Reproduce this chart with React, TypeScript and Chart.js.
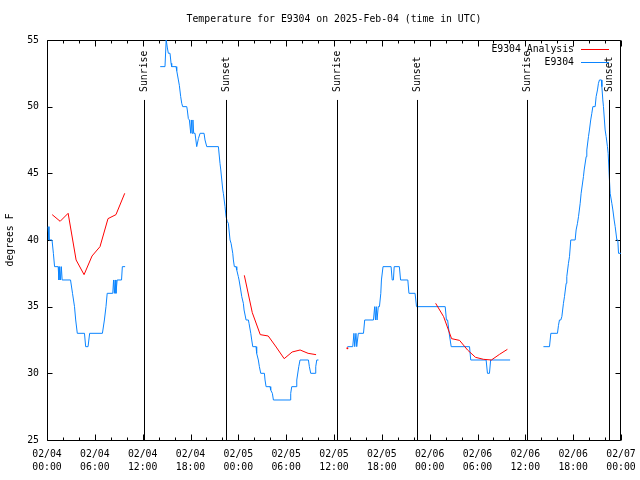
import React, { useEffect, useRef } from "react";
import { Chart, registerables } from "chart.js";

Chart.register(...registerables);

const TITLE = "Temperature for E9304 on 2025-Feb-04 (time in UTC)";
const Y_LABEL = "degrees F";
const SERIES_ANA = "E9304 Analysis";
const SERIES_OBS = "E9304";

// x values are hours since 2025-02-04 00:00 UTC
const tickDays = ["02/04", "02/05", "02/06", "02/07"];
const tickTimes = ["00:00", "06:00", "12:00", "18:00"];

const sunriseHours = [12.22, 36.35, 60.27];
const sunsetHours = [22.5, 46.46, 70.55];

const obsHours = [
  0.13, 0.25, 0.63, 0.8, 0.95, 1.4, 1.5, 1.6, 1.7, 1.8, 1.9, 2.95, 3.2, 3.45, 3.6, 3.8, 4.7, 4.85, 5.15, 5.35, 6.95, 7.2, 7.4, 7.55, 8.25, 8.35, 8.45, 8.55, 8.65, 8.8, 9.35, 9.45, 9.8,
  12,
  14.2, 14.8, 14.95, 15.1, 15.22, 15.43, 15.56, 15.64, 16.19, 16.27, 16.48, 16.6, 16.77, 16.9, 17.02, 17.53, 17.6, 17.73, 17.86, 18.03, 18.1, 18.2, 18.3, 18.4, 18.57, 18.78, 18.99, 19.2, 19.7, 19.82, 20.04, 21.5, 21.7, 21.8, 22.05, 22.12, 22.33, 22.46, 22.6, 22.75, 22.96, 23.09, 23.3, 23.38, 23.5, 23.71, 23.8, 24.0, 24.09, 24.3, 24.43, 24.63, 24.72, 24.97, 25.26, 25.34, 25.56, 25.68, 25.81, 26.22, 26.3, 26.51, 26.64, 26.81, 27.27, 27.35, 27.48, 27.98, 28.06, 28.27, 28.4, 30.49, 30.57, 30.7, 31.24, 31.33, 31.58, 31.74, 32.79, 32.91, 33.08, 33.63, 33.71, 33.84, 34.05,
  36,
  37.68, 38.35, 38.5, 38.6, 38.75, 38.85, 39.05, 39.7, 39.85, 40.95, 41.1, 41.2, 41.3, 41.4, 41.55, 41.7, 41.87, 41.95, 42.15, 43.16, 43.3, 43.45, 43.55, 44.2, 44.35, 45.26, 45.4, 46.17, 46.35, 49.95, 50.1, 50.25, 50.45, 50.7, 53.0, 53.15, 55.08, 55.25, 55.5, 55.65, 58.09,
  60,
  62.27, 63.03, 63.2, 64.03, 64.16, 64.28, 64.45, 64.58, 64.78, 64.91, 65.12, 65.2, 65.41, 65.54, 65.7, 66.25, 66.37, 66.54, 66.67, 66.88, 67.0, 67.29, 67.38, 67.63, 67.71, 67.92, 68.04, 68.2, 68.34, 68.47, 68.76, 68.88, 69.05, 69.17, 69.3, 69.55, 69.6, 69.72, 69.8, 70.01, 70.14, 70.3, 70.39, 70.55, 70.64, 70.85, 70.98, 71.14, 71.27, 71.48, 71.6, 71.69, 72.0,
];
const obsTemps = [
  41, 40, 40, 39, 38, 38, 37, 38, 37, 38, 37, 37, 36, 35, 34, 33, 33, 32, 32, 33, 33, 34, 35, 36, 36, 37, 36, 37, 36, 37, 37, 38, 38,
  null,
  53, 53, 55, 54.4, 54, 54, 53.25, 53, 53, 52.7, 52, 51.6, 50.75, 50.25, 50, 50, 49.75, 49.1, 49, 48, 49, 48, 49, 48, 48, 47, 47.6, 48, 48, 47.5, 47, 47, 45.75, 45.25, 43.75, 43.5, 42.5, 41.75, 41.4, 41.25, 40, 39.75, 39, 38.5, 38, 38, 37.75, 37.25, 37, 36.25, 35.75, 35.25, 34.75, 34, 34, 33.75, 33, 32.5, 32, 32, 31.5, 31, 30.5, 30, 30, 29.5, 29, 29, 28.75, 28.5, 28, 28, 28.5, 29, 29, 29.5, 30.5, 31, 31, 30.5, 30, 30, 30.5, 31, 31,
  null,
  32, 32, 33, 32, 33, 32, 33, 33, 34, 34, 35, 34, 35, 34, 35, 35, 36, 37, 38, 38, 37, 37, 38, 38, 37, 37, 36, 36, 35, 35, 34, 34, 33, 32, 32, 31, 31, 30, 30, 31, 31,
  null,
  32, 32, 33, 33, 33.6, 34, 34, 34.25, 35.25, 35.75, 36.75, 37.25, 38.25, 38.75, 40, 40, 40.75, 41.25, 41.75, 42.75, 43.5, 44.75, 45.25, 46.25, 46.75, 47.75, 48.25, 49, 49.5, 50, 50, 50.75, 51.25, 51.75, 52, 52, 51.5, 50.5, 50, 48.25, 47.75, 47, 46.5, 44.5, 43.5, 42.75, 42.25, 41.5, 41, 40, 40, 39, 39,
];

const anaHours = [
  0.65, 1.65, 2.65, 3.65, 4.65, 5.65, 6.65, 7.65, 8.65, 9.75,
  12,
  24.75, 25.75, 26.75, 27.75, 28.75, 29.75, 30.75, 31.75, 32.75, 33.75,
  36,
  37.68,
  40,
  48.75, 49.75, 50.75, 51.75, 52.75, 53.75, 54.75, 55.75, 56.75, 57.75,
];
const anaTemps = [
  41.9, 41.4, 42.0, 38.5, 37.4, 38.8, 39.5, 41.6, 41.9, 43.5,
  null,
  37.35, 34.55, 32.9, 32.8, 31.97, 31.1, 31.6, 31.75, 31.5, 31.4,
  null,
  31.875,
  null,
  35.25, 34.25, 32.6, 32.47, 31.75, 31.2, 31.05, 31.0, 31.42, 31.8,
];

const FONT = "'DejaVu Sans Mono', 'Liberation Mono', monospace";
const FONT_SIZE = 9.8;
const RED = "#ff0000";
const BLUE = "#0a84ff";

const framePlugin = {
  id: "frame",
  beforeDatasetsDraw(chart: any) {
    const { ctx, chartArea, scales } = chart;
    const l = Math.round(chartArea.left) + 0.5;
    const r = Math.round(chartArea.right) - 0.5;
    const t = Math.round(chartArea.top) + 0.5;
    const b = Math.round(chartArea.bottom) + 0.5;
    ctx.save();
    ctx.strokeStyle = "#000";
    ctx.lineWidth = 1;
    ctx.beginPath();
    ctx.rect(l, t, r - l, b - t);
    for (const tk of scales.x.ticks) {
      const v = Math.round(tk.value);
      const len = v % 6 === 0 ? 6 : 3;
      const px = Math.round(scales.x.getPixelForValue(v)) + 0.5;
      ctx.moveTo(px, b);
      ctx.lineTo(px, b - len);
      ctx.moveTo(px, t);
      ctx.lineTo(px, t + len);
    }
    for (const tk of scales.y.ticks) {
      const py = Math.round(scales.y.getPixelForValue(tk.value)) + 0.5;
      ctx.moveTo(l, py);
      ctx.lineTo(l + 5, py);
      ctx.moveTo(r, py);
      ctx.lineTo(r - 5, py);
    }
    ctx.stroke();
    ctx.restore();
  },
};

const sunPlugin = {
  id: "sun",
  afterDatasetsDraw(chart: any) {
    const { ctx, chartArea, scales } = chart;
    const lineTop = chartArea.top + 60;
    const textStart = chartArea.top + 52;
    const draw = (h: number, label: string) => {
      const px = Math.round(scales.x.getPixelForValue(h)) + 0.5;
      ctx.save();
      ctx.strokeStyle = "#000";
      ctx.lineWidth = 1;
      ctx.beginPath();
      ctx.moveTo(px, chartArea.bottom);
      ctx.lineTo(px, lineTop);
      ctx.stroke();
      ctx.translate(px, textStart);
      ctx.rotate(-Math.PI / 2);
      ctx.fillStyle = "#000";
      ctx.font = `${FONT_SIZE}px ${FONT}`;
      ctx.textAlign = "left";
      ctx.textBaseline = "middle";
      ctx.fillText(label, 0, 0);
      ctx.restore();
    };
    sunriseHours.forEach((h) => draw(h, "Sunrise"));
    sunsetHours.forEach((h) => draw(h, "Sunset"));
  },
};

const keyPlugin = {
  id: "key",
  afterDraw(chart: any) {
    const { ctx, chartArea } = chart;
    const textRight = chartArea.right - 47;
    const x0 = chartArea.right - 40;
    const x1 = chartArea.right - 12;
    const rows = [
      { label: SERIES_ANA, color: RED, y: chartArea.top + 9 },
      { label: SERIES_OBS, color: BLUE, y: chartArea.top + 22 },
    ];
    ctx.save();
    ctx.font = `${FONT_SIZE}px ${FONT}`;
    ctx.textAlign = "right";
    ctx.textBaseline = "middle";
    for (const row of rows) {
      ctx.fillStyle = "#000";
      ctx.fillText(row.label, textRight, row.y);
      ctx.strokeStyle = row.color;
      ctx.lineWidth = 1;
      ctx.beginPath();
      ctx.moveTo(x0, Math.round(row.y) + 0.5);
      ctx.lineTo(x1, Math.round(row.y) + 0.5);
      ctx.stroke();
    }
    ctx.restore();
  },
};

export default function App() {
  const ref = useRef<HTMLCanvasElement>(null);
  useEffect(() => {
    document.body.style.margin = "0";
    const canvas = ref.current!;
    const toPts = (xs: number[], ys: (number | null)[]) => xs.map((x, i) => ({ x, y: ys[i] }));
    const chart = new Chart(canvas, {
      type: "line",
      data: {
        datasets: [
          {
            label: SERIES_ANA,
            data: toPts(anaHours, anaTemps) as any,
            borderColor: RED,
            backgroundColor: RED,
            borderWidth: 1,
            pointBorderWidth: 0,
            pointRadius: (c: any) => {
              const i = c.dataIndex;
              const prev = i > 0 ? anaTemps[i - 1] : null;
              const next = i < anaTemps.length - 1 ? anaTemps[i + 1] : null;
              return anaTemps[i] !== null && prev === null && next === null ? 1 : 0;
            },
            spanGaps: false,
            tension: 0,
          },
          {
            label: SERIES_OBS,
            data: toPts(obsHours, obsTemps) as any,
            borderColor: BLUE,
            backgroundColor: BLUE,
            borderWidth: 1,
            pointRadius: 0,
            spanGaps: false,
            tension: 0,
          },
        ],
      },
      options: {
        animation: false,
        responsive: false,
        maintainAspectRatio: false,
        layout: { padding: { top: 0, right: 19, left: 0, bottom: 0 } },
        plugins: {
          legend: { display: false },
          tooltip: { enabled: false },
          title: {
            display: true,
            fullSize: false,
            text: TITLE,
            color: "#000",
            font: { family: FONT, size: FONT_SIZE, weight: "normal" as any },
            padding: { top: 13.1, bottom: 15.1 },
          },
        },
        scales: {
          x: {
            type: "linear",
            min: 0,
            max: 72,
            afterFit: (s: any) => {
              s.height = 40;
              s.paddingLeft = 0;
              s.paddingRight = 0;
            },
            grid: { display: false, drawTicks: false, tickLength: 0 },
            border: { display: false },
            ticks: {
              stepSize: 2,
              autoSkip: false,
              maxRotation: 0,
              minRotation: 0,
              padding: 7.5,
              color: "#000",
              font: { family: FONT, size: FONT_SIZE, lineHeight: "13px" },
              callback: (v: any) => {
                const h = Math.round(Number(v));
                if (h % 6 !== 0) return "";
                return [tickDays[Math.floor(h / 24)], tickTimes[(h % 24) / 6]];
              },
            },
          },
          y: {
            min: 25,
            max: 55,
            afterFit: (s: any) => {
              s.width = 47;
            },
            grid: { display: false, drawTicks: false, tickLength: 0 },
            border: { display: false },
            ticks: {
              stepSize: 5,
              padding: 8,
              color: "#000",
              font: { family: FONT, size: FONT_SIZE },
            },
            title: {
              display: true,
              text: Y_LABEL,
              color: "#000",
              font: { family: FONT, size: FONT_SIZE, lineHeight: "10px" },
              padding: { top: 5, bottom: 0 },
            },
          },
        },
      },
      plugins: [framePlugin, sunPlugin, keyPlugin],
    });
    return () => chart.destroy();
  }, []);
  return (
    <div style={{ position: "fixed", left: 0, top: 0, width: 640, height: 480, background: "#fff" }}>
      <canvas ref={ref} width={640} height={480} style={{ width: 640, height: 480, display: "block" }} />
    </div>
  );
}
